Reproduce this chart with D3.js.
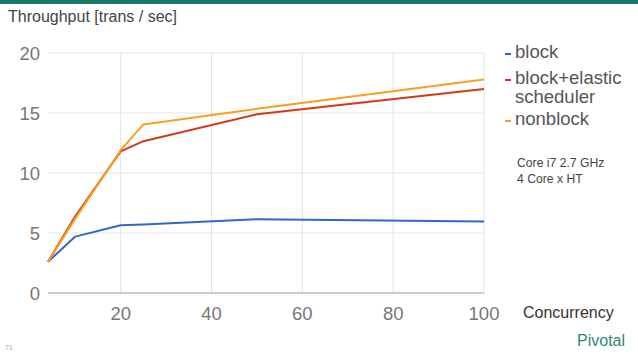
<!DOCTYPE html>
<html>
<head>
<meta charset="utf-8">
<script src="https://cdn.jsdelivr.net/npm/d3@7"></script>
<style>
  body { margin: 0; background: #fff; }
  text { font-family: "Liberation Sans", Arial, sans-serif; }
</style>
</head>
<body>
<div id="chart"></div>
<script>
// data
var concurrency = [4, 10, 20, 25, 50, 100];
var blockVals   = [2.6, 4.7, 5.65, 5.7, 6.15, 5.95];
var elasticVals = [2.6, 6.4, 11.8, 12.65, 14.9, 17.0];
var nonblockVals = [2.6, 6.2, 11.9, 14.05, 15.35, 17.8];
var seriesNames = ["block", "block+elastic|scheduler", "nonblock"];
var seriesColors = ["#3366cc", "#d0391b", "#f4a11c"];
var yTicks = [0, 5, 10, 15, 20];
var xTicks = [20, 40, 60, 80, 100];

var W = 638, H = 359;

var svg = d3.select("#chart")
  .append("svg")
    .attr("width", W)
    .attr("height", H);

// top band
svg.append("rect")
  .attr("x", 0).attr("y", 0)
  .attr("width", W).attr("height", 4)
  .style("fill", "#177a69");

svg.append("text")
  .attr("x", 8).attr("y", 22)
  .style("font-size", "16px")
  .style("fill", "#444")
  .text("Throughput [trans / sec]");

var x = d3.scaleLinear()
  .domain([4, 100])
  .range([48, 484]);

var y = d3.scaleLinear()
  .domain([0, 20])
  .range([293, 53]);

// grid
svg.append("g")
  .selectAll("line")
  .data(yTicks.filter(function (d) { return d > 0; }))
  .enter()
  .append("line")
    .attr("x1", x(4)).attr("x2", x(100))
    .attr("y1", function (d) { return y(d); })
    .attr("y2", function (d) { return y(d); })
    .style("stroke", "#e4e4e4");

svg.append("g")
  .selectAll("line")
  .data(xTicks)
  .enter()
  .append("line")
    .attr("x1", function (d) { return x(d); })
    .attr("x2", function (d) { return x(d); })
    .attr("y1", y(20)).attr("y2", y(0))
    .style("stroke", "#e4e4e4");

// baseline
svg.append("line")
  .attr("x1", x(4)).attr("x2", x(100))
  .attr("y1", y(0)).attr("y2", y(0))
  .style("stroke", "#9a9a9a");

// y labels
svg.append("g")
  .selectAll("text")
  .data(yTicks)
  .enter()
  .append("text")
    .attr("x", 40)
    .attr("y", function (d) { return y(d) + 6.5; })
    .attr("text-anchor", "end")
    .style("font-size", "18.5px")
    .style("fill", "#777")
    .text(function (d) { return d; });

// x labels
svg.append("g")
  .selectAll("text")
  .data(xTicks)
  .enter()
  .append("text")
    .attr("x", function (d) { return x(d); })
    .attr("y", 320)
    .attr("text-anchor", "middle")
    .style("font-size", "18.5px")
    .style("fill", "#777")
    .text(function (d) { return d; });

// lines
var allSeries = [blockVals, elasticVals, nonblockVals];
var line = d3.line()
  .x(function (d, i) { return x(concurrency[i]); })
  .y(function (d) { return y(d); });

svg.append("g")
  .selectAll("path")
  .data(allSeries)
  .enter()
  .append("path")
    .attr("d", function (d) { return line(d); })
    .style("fill", "none")
    .style("stroke", function (d, i) { return seriesColors[i]; })
    .style("stroke-width", 2)
    .style("stroke-linejoin", "round");

// legend
var legendY = [58, 84, 125];
var leg = svg.append("g");
seriesNames.forEach(function (name, i) {
  leg.append("rect")
    .attr("x", 505).attr("y", legendY[i] - 5)
    .attr("width", 6).attr("height", 2)
    .style("fill", seriesColors[i]);
  name.split("|").forEach(function (part, j) {
    leg.append("text")
      .attr("x", 515)
      .attr("y", legendY[i] + j * 19)
      .style("font-size", "18.5px")
      .style("fill", "#555")
      .text(part);
  });
});

svg.append("text")
  .attr("x", 517).attr("y", 167)
  .style("font-size", "12.2px")
  .style("fill", "#444")
  .text("Core i7 2.7 GHz");
svg.append("text")
  .attr("x", 517).attr("y", 183)
  .style("font-size", "12.2px")
  .style("fill", "#444")
  .text("4 Core x HT");

svg.append("text")
  .attr("x", 523).attr("y", 318)
  .style("font-size", "16px")
  .style("fill", "#333")
  .text("Concurrency");

svg.append("text")
  .attr("x", 5).attr("y", 350)
  .style("font-size", "7px")
  .style("fill", "#aaa")
  .text("71");

svg.append("text")
  .attr("x", 577).attr("y", 346)
  .style("font-size", "16px")
  .style("fill", "#2a8a79")
  .text("Pivotal");
</script>
</body>
</html>
